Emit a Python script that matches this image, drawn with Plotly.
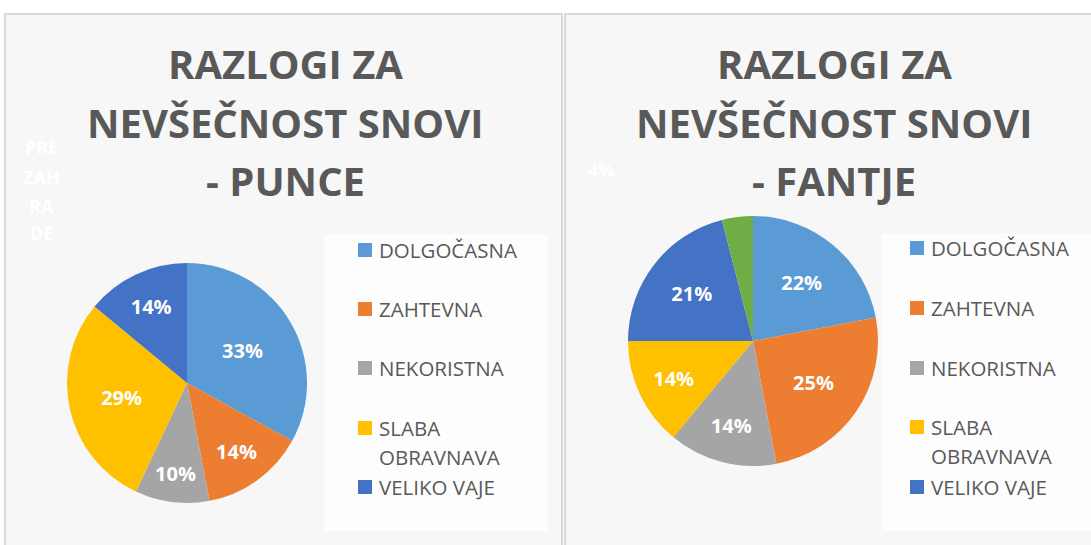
import plotly.graph_objects as go

W, H = 1091, 545

categories = ["DOLGOČASNA", "ZAHTEVNA", "NEKORISTNA", "SLABA OBRAVNAVA", "VELIKO VAJE", "DRUGO"]
legend_labels = ["DOLGOČASNA", "ZAHTEVNA", "NEKORISTNA", "SLABA<br>OBRAVNAVA", "VELIKO VAJE"]
punce_values = [33, 14, 10, 29, 14]
fantje_values = [22, 25, 14, 14, 21, 4]
colors = ["#5B9BD5", "#ED7D31", "#A5A5A5", "#FFC000", "#4472C4", "#70AD47"]
title_punce = ["RAZLOGI ZA", "NEVŠEČNOST SNOVI", "- PUNCE"]
title_fantje = ["RAZLOGI ZA", "NEVŠEČNOST SNOVI", "- FANTJE"]
ghost_left = ["PRE", "ZAH", "RA", "DE"]
ghost_right = "4%"

FONT = "Open Sans"
GREY = "#595959"


def px(x):
    return x / W


def py(y):
    return 1 - y / H


fig = go.Figure()

# left pie
fig.add_trace(go.Pie(
    labels=categories[:5], values=punce_values, sort=False, direction="clockwise",
    marker=dict(colors=colors[:5], line=dict(width=0)),
    texttemplate="%{percent:.0%}", textposition="inside", insidetextorientation="horizontal",
    textfont=dict(family=FONT, size=20, color="white", weight="bold"),
    domain=dict(x=[px(67), px(307)], y=[py(503), py(263)]),
    showlegend=False, hoverinfo="label+percent",
))
# right pie
fig.add_trace(go.Pie(
    labels=categories, values=fantje_values, sort=False, direction="clockwise",
    marker=dict(colors=colors, line=dict(width=0)),
    texttemplate=["%{percent:.0%}"] * 5 + [""], textposition="inside",
    insidetextorientation="horizontal",
    textfont=dict(family=FONT, size=20, color="white", weight="bold"),
    domain=dict(x=[px(628), px(878)], y=[py(466), py(216)]),
    showlegend=False, hoverinfo="label+percent",
))

shapes = []
annotations = []

# panels
for x0, x1 in [(5, 562), (565, 1098)]:
    shapes.append(dict(type="rect", xref="paper", yref="paper",
                       x0=px(x0), x1=px(x1), y0=py(560), y1=py(14),
                       fillcolor="#f7f7f7", line=dict(color="#d9d9d9", width=2), layer="below"))
# legend boxes
for x0, x1 in [(324, 548), (882, 1100)]:
    shapes.append(dict(type="rect", xref="paper", yref="paper",
                       x0=px(x0), x1=px(x1), y0=py(531), y1=py(234),
                       fillcolor="#fdfdfd", line=dict(width=0), layer="below"))

# titles
title_y = [63, 122, 181]
for cx, lines in [(285, title_punce), (834, title_fantje)]:
    for yy, t in zip(title_y, lines):
        annotations.append(dict(xref="paper", yref="paper", x=px(cx), y=py(yy),
                                xanchor="center", yanchor="middle", showarrow=False,
                                text=f"<b>{t}</b>",
                                font=dict(family=FONT, size=40, color=GREY)))

# legends
leg_y = [250, 309, 368, 428, 487]
for sqx, txx, ys in [(358, 377, leg_y), (910, 929, [248, 308, 368, 427, 487])]:
    for i, (lab, yy) in enumerate(zip(legend_labels, ys)):
        shapes.append(dict(type="rect", xref="paper", yref="paper",
                           x0=px(sqx), x1=px(sqx + 14), y0=py(yy + 7), y1=py(yy - 7),
                           fillcolor=colors[i], line=dict(width=0)))
        parts = lab.split("<br>")
        for k, part in enumerate(parts):
            annotations.append(dict(xref="paper", yref="paper", x=px(txx), y=py(yy + 29 * k),
                                    xanchor="left", yanchor="middle", showarrow=False, text=part,
                                    font=dict(family=FONT, size=20.5, color=GREY)))

# ghost (white) labels
for t, yy in zip(ghost_left, [147, 177, 206, 233]):
    annotations.append(dict(xref="paper", yref="paper", x=px(41), y=py(yy),
                            xanchor="center", yanchor="middle", showarrow=False,
                            text=f"<b>{t}</b>", font=dict(family=FONT, size=18, color="white")))
annotations.append(dict(xref="paper", yref="paper", x=px(601), y=py(170),
                        xanchor="center", yanchor="middle", showarrow=False,
                        text=f"<b>{ghost_right}</b>", font=dict(family=FONT, size=18, color="white")))

fig.update_layout(
    width=W, height=H, margin=dict(l=0, r=0, t=0, b=0),
    paper_bgcolor="white", plot_bgcolor="white",
    shapes=shapes, annotations=annotations, showlegend=False,
)

fig.write_html(
    "out.html",
    config={"displayModeBar": False},
    post_script="document.body.style.margin='0';document.body.style.overflow='hidden';",
)
